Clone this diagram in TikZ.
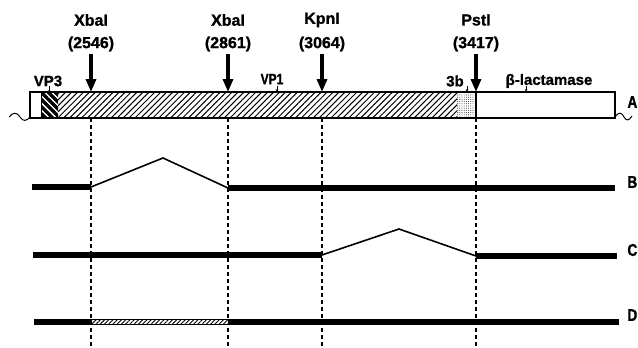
\documentclass[tikz,border=0pt]{standalone}
\usepackage{fontspec}
\setmainfont{Liberation Sans}[BoldFeatures={FakeBold=1.2}]
\newfontfamily\cond{Liberation Sans}[FakeStretch=0.8,BoldFeatures={FakeBold=1.2}]
\usetikzlibrary{arrows.meta,patterns.meta}
\begin{document}
\begin{tikzpicture}[x=1pt,y=-1pt,
  site/.style={font=\bfseries\fontsize{16}{16}\selectfont, inner sep=0pt},
  tag/.style={font=\bfseries\fontsize{15}{15}\selectfont, inner sep=0pt},
  rowlbl/.style={font=\cond\bfseries\fontsize{17}{17}\selectfont, inner sep=0pt, anchor=east},
  bigarrow/.style={line width=3.8pt, -{Triangle[length=13pt,width=10pt]}},
  tinyarrow/.style={line width=0.6pt, -{Stealth[length=3pt,width=2.6pt]}},
  guide/.style={line width=1.1pt, dash pattern=on 4pt off 3pt},
  dna/.style={line width=6pt},
  loopline/.style={line width=1.6pt, line join=miter},
]
\useasboundingbox (0,0) rectangle (638,348);

% --- plasmid map box (A)
\path[pattern={Lines[angle=45,distance=4.2pt,line width=1pt]}] (58,92) rectangle (457,118);
\path[pattern={Lines[angle=-45,distance=5pt,line width=3.4pt]}] (41,92) rectangle (58,118);
\path[pattern={Dots[distance=2.2pt,radius=0.45pt]}] (457,92) rectangle (476,118);
\draw[line width=1.2pt] (30,92) rectangle (615,118);
\draw[line width=1.2pt] (476,92) -- (476,118);
\draw[line width=1pt] (41,92) -- (41,118);

% wavy ends
\draw[line width=1pt] (9,117) .. controls (13,112) and (17,112) .. (20,117) .. controls (23,122) and (27,121) .. (30,117);
\draw[line width=1pt] (615,117) .. controls (618,112) and (622,112) .. (624,117) .. controls (626,121) and (629,121) .. (632,116);

% --- restriction sites
\foreach \nm/\x/\num/\lab in {xa/91/2546/XbaI, xb/228/2861/XbaI, kp/322/3064/KpnI, ps/476/3417/PstI}{
  \node[site] (\nm name) at (\x,20) {\lab};
  \node[site] (\nm num) at (\x,44) {(\num)};
  \coordinate (\nm top) at (\x,54);
  \coordinate (\nm hit) at (\x,92);
  \draw[bigarrow] (\nm top) -- (\nm hit);
  \coordinate (\nm lo) at (\x,118);
  \coordinate (\nm end) at (\x,348);
  \draw[guide] (\nm lo) -- (\nm end);
}

% --- region labels with small arrows
\node[tag] (vp3) at (48,81) {VP3};
\coordinate (vp3a) at (49,86); \coordinate (vp3b) at (49,93);
\draw[tinyarrow] (vp3a) -- (vp3b);
\node[tag] (vp1) at (272,79) {\cond VP1};
\coordinate (vp1a) at (277,86); \coordinate (vp1b) at (277,92);
\draw[tinyarrow] (vp1a) -- (vp1b);
\node[tag] (tb) at (455,81) {3b};
\coordinate (tba) at (467,86); \coordinate (tbb) at (467,92);
\draw[tinyarrow] (tba) -- (tbb);
\node[tag] (bla) at (549,81) {β-lactamase};
\coordinate (blaa) at (526,86); \coordinate (blab) at (526,92);
\draw[tinyarrow] (blaa) -- (blab);

% --- row labels
\node[rowlbl] (la) at (637.5,102) {A};
\node[rowlbl] (lb) at (637.5,182) {B};
\node[rowlbl] (lc) at (637.5,250) {C};
\node[rowlbl] (ld) at (637.5,315) {D};

% --- construct B
\coordinate (b0) at (32,187); \coordinate (b1) at (91,187);
\coordinate (bp) at (163,158); \coordinate (b2) at (228,188); \coordinate (b3) at (615,188);
\draw[dna] (b0) -- (b1);
\draw[loopline] (b1) -- (bp) -- (b2);
\draw[dna] (b2) -- (b3);

% --- construct C
\coordinate (c0) at (33,255); \coordinate (c1) at (322,255);
\coordinate (cp) at (399,229); \coordinate (c2) at (476,256); \coordinate (c3) at (617,256);
\draw[dna] (c0) -- (c1);
\draw[loopline] (c1) -- (cp) -- (c2);
\draw[dna] (c2) -- (c3);

% --- construct D
\coordinate (d0) at (34,322); \coordinate (d1) at (91,322);
\coordinate (d2) at (228,322); \coordinate (d3) at (619,322);
\draw[dna] (d0) -- (d1);
\draw[dna] (d2) -- (d3);
\path[fill=white] (91,319.8) rectangle (228,324.2);
\path[pattern={Lines[angle=45,distance=3pt,line width=0.9pt]}] (91,319.8) rectangle (228,324.2);
\draw[line width=0.8pt] (91,319.8) rectangle (228,324.2);
\end{tikzpicture}
\end{document}
